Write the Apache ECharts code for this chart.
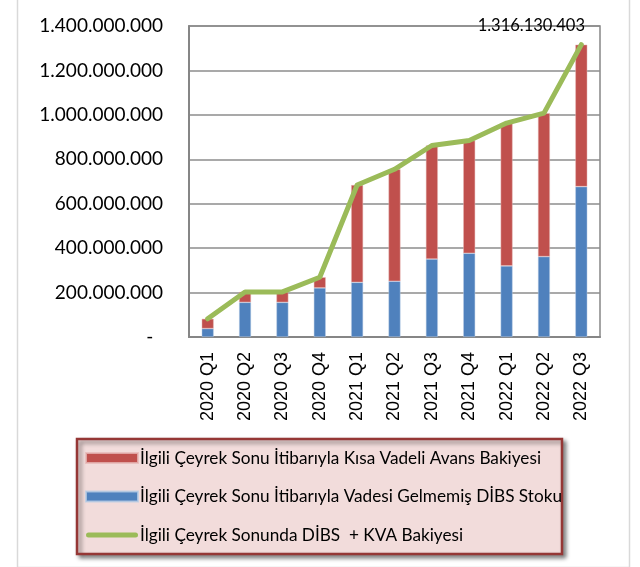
<!DOCTYPE html>
<html>
<head>
<meta charset="utf-8">
<script src="https://cdn.jsdelivr.net/npm/echarts@6/dist/echarts.min.js"></script>
<style>
html,body{margin:0;padding:0;background:#fff;}
#main{width:640px;height:567px;}
</style>
</head>
<body>
<div id="main"></div>
<script>
var categories = ['2020 Q1','2020 Q2','2020 Q3','2020 Q4','2021 Q1','2021 Q2','2021 Q3','2021 Q4','2022 Q1','2022 Q2','2022 Q3'];
var dibsStock = [38000000,156000000,156000000,221000000,246000000,251000000,351000000,377000000,320000000,362000000,677000000];
var kvaBalance = [44000000,47000000,47000000,48000000,438000000,504000000,511000000,508000000,643000000,646000000,639130403];
var totalBalance = [82000000,203000000,203000000,269000000,684000000,755000000,862000000,885000000,963000000,1008000000,1316130403];
var yTicks = [0,200000000,400000000,600000000,800000000,1000000000,1200000000,1400000000];

var nameKVA = 'İlgili Çeyrek Sonu İtibarıyla Kısa Vadeli Avans Bakiyesi';
var nameDIBS = 'İlgili Çeyrek Sonu İtibarıyla Vadesi Gelmemiş DİBS Stoku';
var nameTotal = 'İlgili Çeyrek Sonunda DİBS  + KVA Bakiyesi';

function fmt(v){
  if (v === 0) return '-  ';
  return String(Math.round(v)).replace(/\B(?=(\d{3})+(?!\d))/g, '.');
}

var lastIdx = totalBalance.length - 1;
var lineData = totalBalance.map(function(v, i){
  if (i === lastIdx) {
    return {value: v, label: {show: true}};
  }
  return v;
});

var chart = echarts.init(document.getElementById('main'), null, {renderer: 'canvas'});
var option = {
  animation: false,
  backgroundColor: '#ffffff',
  graphic: [{
    type: 'rect', left: 15, top: -5, z: -10, silent: true,
    shape: {width: 612, height: 570},
    style: {fill: 'none', stroke: '#d9d9d9', lineWidth: 1.5}
  }],
  grid: {
    left: 189, right: 40, top: 26, bottom: 230,
    show: true, borderColor: '#868686', borderWidth: 1.5, backgroundColor: 'transparent'
  },
  legend: {
    orient: 'vertical',
    left: 77, top: 439,
    backgroundColor: '#f2dcdb',
    borderColor: '#953735',
    borderWidth: 2.5,
    shadowColor: 'rgba(0,0,0,0.45)',
    shadowBlur: 4,
    shadowOffsetX: 3,
    shadowOffsetY: 3,
    padding: [9, 0, 9, 8],
    itemWidth: 52,
    itemHeight: 10,
    itemGap: 18.5,
    selectedMode: false,
    textStyle: {fontFamily: 'Lato', fontSize: 17.2, color: '#000', lineHeight: 20, padding: [0,0,0,-3]},
    data: [
      {name: nameKVA, icon: 'rect'},
      {name: nameDIBS, icon: 'rect'},
      {name: nameTotal, icon: 'path://M0,0 M52,10 M2.5,2.5 L49.5,2.5 A2.5,2.5 0 0 1 49.5,7.5 L2.5,7.5 A2.5,2.5 0 0 1 2.5,2.5 Z'}
    ]
  },
  xAxis: {
    type: 'category',
    data: categories,
    axisLine: {show: true, lineStyle: {color: '#868686', width: 2}},
    axisTick: {show: false},
    axisLabel: {rotate: 90, margin: 15, fontFamily: 'Liberation Sans', fontSize: 18, color: '#000'},
    splitLine: {show: false}
  },
  yAxis: {
    type: 'value',
    min: 0, max: 1400000000, interval: 200000000,
    axisLine: {show: true, lineStyle: {color: '#868686', width: 2}},
    axisTick: {show: false},
    splitLine: {show: true, lineStyle: {color: '#8c8c8c', width: 1.5}},
    axisLabel: {
      margin: 26, fontFamily: 'Lato', fontSize: 19, color: '#000',
      formatter: function(v){ return fmt(v); }
    }
  },
  series: [
    {
      name: nameDIBS, type: 'bar', stack: 'total', data: dibsStock, barWidth: 12,
      itemStyle: {color: '#4f81bd', borderColor: 'rgba(185,205,229,0.8)', borderWidth: 0.6}
    },
    {
      name: nameKVA, type: 'bar', stack: 'total', data: kvaBalance, barWidth: 12,
      itemStyle: {color: '#c0504d', borderColor: 'rgba(230,185,184,0.8)', borderWidth: 0.6}
    },
    {
      name: nameTotal, type: 'line', data: lineData,
      symbol: 'circle', symbolSize: 0.01, showSymbol: true,
      itemStyle: {color: '#9bbb59'},
      lineStyle: {color: '#9bbb59', width: 5, cap: 'round', join: 'round'},
      label: {
        show: false, position: 'top', distance: 5, offset: [-50, -5],
        fontFamily: 'Lato', fontSize: 16.5, color: '#000',
        formatter: function(p){ return fmt(p.value); }
      },
      z: 5
    }
  ]
};
chart.setOption(option);
</script>
</body>
</html>
